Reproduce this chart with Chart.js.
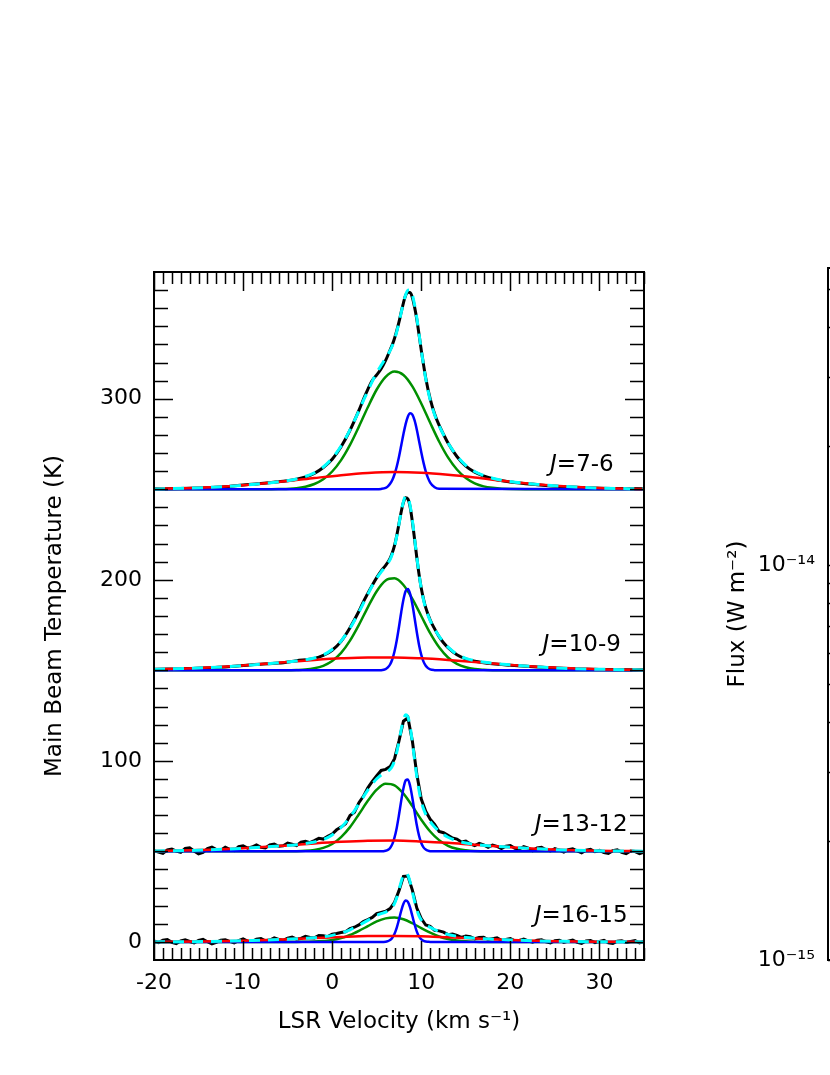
<!DOCTYPE html>
<html><head><meta charset="utf-8">
<script src="https://cdn.jsdelivr.net/npm/chart.js@4.4.1/dist/chart.umd.min.js"></script>
<style>
html,body{margin:0;padding:0;background:#fff;width:830px;height:1075px;overflow:hidden;}
#left{position:absolute;left:0;top:0;}
#right{position:absolute;left:680px;top:0;}
</style></head><body>
<canvas id="left" width="700" height="1075"></canvas>
<canvas id="right" width="400" height="1075"></canvas>
<script>
// ---------------- velocity grids (km/s) ----------------
const velFit = [-20, -16, -12, -9, -6, -4, -2, -1, 0, 1, 2, 3, 3.5, 4, 4.5, 5, 5.5, 6, 6.5, 6.75, 7, 7.25, 7.5, 7.75, 8, 8.25, 8.5, 8.75, 9, 9.25, 9.5, 9.75, 10, 10.25, 10.5, 11, 11.5, 12, 12.5, 13, 14, 15, 16, 18, 20, 23, 26, 30, 35];
const velRed = [-20, -15, -10, -5, -2, 1, 4, 7, 10, 13, 16, 20, 25, 30, 35];
const velGreen = [-20, -12, -8, -6, -4, -3, -2, -1, 0, 1, 2, 3, 4, 5, 6, 7, 8, 9, 10, 11, 12, 13, 14, 15, 16, 17, 18, 20, 24, 35];
const velBlue = [-20, 5, 5.5, 6, 6.25, 6.5, 6.75, 7, 7.25, 7.5, 7.75, 8, 8.25, 8.5, 8.75, 9, 9.25, 9.5, 9.75, 10, 10.25, 10.5, 10.75, 11, 11.5, 12, 35];
const velChan = [-20,-19.5,-19,-18.5,-18,-17.5,-17,-16.5,-16,-15.5,
 -15,-14.5,-14,-13.5,-13,-12.5,-12,-11.5,-11,-10.5,
 -10,-9.5,-9,-8.5,-8,-7.5,-7,-6.5,-6,-5.5,
 -5,-4.5,-4,-3.5,-3,-2.5,-2,-1.5,-1,-0.5,
 0,0.5,1,1.5,2,2.5,3,3.5,4,4.5,
 5,5.5,6,6.5,7,7.5,8,8.5,9,9.5,
 10,10.5,11,11.5,12,12.5,13,13.5,14,14.5,
 15,15.5,16,16.5,17,17.5,18,18.5,19,19.5,
 20,20.5,21,21.5,22,22.5,23,23.5,24,24.5,
 25,25.5,26,26.5,27,27.5,28,28.5,29,29.5,
 30,30.5,31,31.5,32,32.5,33,33.5,34,34.5,
 35];

// ---------------- transitions ----------------
const transitions = ['7-6', '10-9', '13-12', '16-15'];

// observed spectra (K, offset)
const obs76 = [250.3, 250.5, 251.4, 252.8, 254.2, 255.5, 258.8, 262.0, 266.6, 273.5, 282.6, 293.6, 299.6, 305.2, 310.1, 313.2, 316.6, 321.2, 326.9, 329.8, 333.4, 337.6, 342.4, 347.9, 353.0, 357.2, 358.8, 358.6, 355.9, 350.6, 343.8, 335.5, 326.8, 318.9, 311.5, 299.9, 291.6, 285.4, 280.3, 275.5, 268.1, 262.8, 259.5, 255.8, 254.0, 252.5, 251.4, 250.6, 250.3];
const obs109 = [150.6, 151.0, 151.8, 153.1, 154.0, 155.3, 156.5, 158.2, 161.1, 166.0, 173.5, 182.6, 187.8, 192.5, 197.0, 201.2, 204.9, 207.9, 211.8, 214.9, 219.0, 224.5, 231.0, 237.6, 242.8, 245.3, 244.6, 240.2, 232.1, 222.4, 212.2, 203.0, 195.3, 189.4, 184.6, 177.8, 172.9, 168.6, 165.2, 162.5, 158.6, 156.3, 155.0, 153.6, 152.8, 151.8, 151.0, 150.5, 150.3];
const obs1312 = [50.4, 49.6, 48.9, 50.8, 51.3, 50.1, 49.5, 51.6, 51.9, 50.2,
 48.6, 49.4, 51.5, 52.4, 51.0, 50.6, 52.3, 51.1, 50.4, 52.6,
 53.1, 51.8, 52.4, 53.6, 52.2, 51.9, 53.5, 54.0, 52.8, 53.1,
 54.6, 53.9, 53.2, 55.1, 55.6, 54.8, 55.9, 57.2, 56.8, 58.3,
 59.6, 61.9, 63.4, 65.2, 69.8, 71.6, 76.9, 80.4, 85.1, 88.6,
 91.8, 94.7, 95.3, 96.8, 101.2, 111.0, 121.9, 123.8, 110.9, 92.6,
 78.9, 72.1, 67.8, 64.9, 61.0, 60.3, 58.9, 57.4, 56.8, 55.2,
 55.7, 54.1, 53.2, 54.4, 53.6, 52.3, 53.5, 52.8, 51.6, 52.9,
 53.2, 51.7, 51.3, 52.6, 51.8, 50.4, 51.9, 52.3, 50.9, 50.2,
 51.5, 50.7, 49.6, 50.9, 51.4, 50.3, 49.2, 50.6, 51.1, 49.8,
 50.5, 49.3, 48.9, 50.4, 50.9, 49.5, 48.7, 50.2, 49.9, 48.8,
 49.6];
const obs1615 = [0.6, -0.4, 0.9, 1.3, -0.2, -0.9, 0.5, 1.1, 0.2, -0.6,
 0.8, 1.4, 0.1, -1.1, -0.3, 0.9, 1.2, 0.3, -0.5, 0.7,
 1.6, 0.4, 0.2, 1.5, 1.9, 0.6, 1.0, 2.2, 1.4, 0.9,
 2.1, 2.6, 1.5, 1.9, 3.1, 2.4, 2.2, 3.5, 3.4, 2.9,
 4.3, 4.6, 5.2, 5.6, 7.3, 8.1, 9.4, 11.2, 12.3, 13.5,
 15.6, 16.3, 16.9, 18.4, 21.9, 28.3, 36.2, 36.4, 28.6, 18.7,
 12.9, 9.3, 8.6, 6.4, 6.1, 5.4, 4.0, 4.4, 3.6, 2.5,
 3.2, 2.9, 1.7, 2.4, 2.6, 1.3, 1.8, 2.2, 0.9, 1.4,
 1.9, 0.6, 0.8, 1.6, 0.5, -0.2, 0.9, 1.2, 0.1, -0.6,
 0.7, 0.9, -0.3, 0.4, 1.0, -0.2, -0.8, 0.5, 0.8, -0.4,
 0.3, 0.9, -0.5, -0.9, 0.4, 0.6, -0.3, 0.2, 0.7, -0.6,
 0.2];

// total fits
const fit76 = [250.2, 250.6, 251.5, 252.6, 254.1, 255.7, 259.1, 262.3, 267.1, 273.9, 282.8, 293.3, 298.9, 304.3, 309.6, 314.4, 318.5, 322.4, 326.6, 329.3, 332.8, 337.1, 342.1, 347.7, 353.1, 357.5, 360.0, 360.1, 357.4, 351.9, 344.6, 335.8, 326.9, 318.6, 311.0, 299.3, 291.2, 285.1, 280.1, 275.6, 268.4, 263.2, 259.8, 256.1, 254.3, 252.7, 251.6, 250.7, 250.2];
const fit109 = [150.5, 151.1, 152.0, 153.0, 154.2, 155.1, 156.8, 158.5, 161.5, 166.2, 173.2, 182.1, 187.0, 191.9, 196.7, 200.9, 204.4, 207.5, 211.2, 214.2, 218.4, 224.1, 230.8, 237.7, 243.2, 246.3, 245.5, 240.9, 232.8, 222.9, 212.5, 203.1, 195.1, 188.9, 184.1, 177.4, 172.7, 168.8, 165.5, 162.8, 158.9, 156.6, 155.3, 153.9, 153.0, 152.0, 151.1, 150.6, 150.2];
const fit1312 = [50.2, 50.5, 51.2, 52.0, 52.9, 53.7, 55.2, 56.6, 59.1, 63.2, 68.9, 76.2, 80.1, 83.8, 87.2, 90.1, 92.2, 93.6, 95.3, 97.1, 100.1, 104.8, 110.7, 117.3, 122.7, 125.5, 124.2, 118.8, 110.2, 100.6, 91.2, 83.6, 77.6, 73.5, 70.5, 66.4, 63.5, 61.2, 59.3, 57.8, 55.8, 54.6, 53.8, 52.9, 52.3, 51.4, 50.8, 50.3, 50.1];
const fit1615 = [0.0, 0.1, 0.4, 0.8, 1.3, 1.7, 2.3, 2.8, 3.6, 4.8, 6.7, 9.1, 10.5, 11.9, 13.3, 14.6, 15.6, 16.4, 17.8, 19.1, 21.3, 24.5, 28.8, 33.3, 36.9, 38.1, 36.8, 33.0, 27.8, 22.4, 17.8, 14.4, 12.1, 10.6, 9.5, 8.0, 6.8, 5.7, 4.9, 4.1, 3.1, 2.4, 2.0, 1.5, 1.1, 0.6, 0.3, 0.1, 0.0];

// broad (red) components
const red76 = [250.2, 250.8, 252.2, 254.5, 256.2, 257.8, 259.0, 259.5, 259.1, 258.0, 256.5, 254.2, 252.0, 250.7, 250.2];
const red109 = [150.5, 151.3, 152.7, 154.6, 155.7, 156.6, 157.1, 157.1, 156.6, 155.7, 154.6, 153.0, 151.5, 150.6, 150.2];
const red1312 = [50.2, 50.7, 51.7, 53.3, 54.4, 55.3, 55.9, 56.0, 55.5, 54.7, 53.6, 52.3, 51.0, 50.3, 50.1];
const red1615 = [0, 0.2, 0.6, 1.5, 2.1, 2.7, 3.2, 3.3, 3.1, 2.5, 1.9, 1.1, 0.4, 0.1, 0];

// medium (green) components
const green76 = [250, 250, 250, 250.1, 250.6, 251.4, 252.9, 255.5, 259.8, 266.1, 274.5, 284.6, 295.3, 305.1, 312.1, 315.0, 313.1, 306.8, 297.4, 286.7, 276.4, 267.6, 260.9, 256.2, 253.3, 251.6, 250.8, 250.1, 250, 250];
const green109 = [150, 150, 150, 150, 150.2, 150.4, 151.1, 152.5, 155.1, 159.6, 166.4, 175.1, 184.8, 193.7, 199.6, 200.8, 197.1, 189.5, 180.0, 170.5, 162.7, 157.1, 153.6, 151.7, 150.7, 150.3, 150.1, 150, 150, 150];
const green1312 = [50, 50, 50, 50, 50.1, 50.3, 50.8, 51.9, 54.1, 57.9, 63.4, 70.5, 77.9, 84.1, 87.3, 86.5, 81.9, 75.0, 67.5, 61.0, 56.2, 53.1, 51.4, 50.6, 50.2, 50.1, 50, 50, 50, 50];
const green1615 = [0, 0, 0, 0, 0, 0.1, 0.2, 0.5, 1.0, 2.1, 3.8, 6.1, 8.7, 11.3, 13.0, 13.5, 12.5, 10.3, 7.6, 5.1, 3.0, 1.6, 0.8, 0.3, 0.1, 0, 0, 0, 0, 0];

// narrow (blue) components
const blue76 = [250, 250, 250.2, 250.8, 251.6, 253.0, 255.1, 258.3, 262.6, 268.0, 274.2, 280.5, 286.1, 290.2, 292.0, 291.2, 288.0, 282.9, 276.7, 270.4, 264.7, 259.9, 256.3, 253.7, 251.1, 250.3, 250];
const blue109 = [150, 150, 150.1, 150.7, 151.6, 153.2, 156.1, 160.5, 166.6, 174.1, 182.1, 189.1, 193.8, 194.9, 192.3, 186.5, 178.9, 171.0, 164.0, 158.5, 154.8, 152.5, 151.2, 150.5, 150.1, 150, 150];
const blue1312 = [50, 50, 50, 50.3, 50.8, 51.9, 54.0, 57.7, 63.1, 70.2, 78.0, 84.9, 89.2, 89.7, 86.1, 79.5, 71.8, 64.4, 58.6, 54.6, 52.2, 51.0, 50.4, 50.1, 50, 50, 50];
const blue1615 = [0, 0, 0, 0.1, 0.4, 1.0, 2.3, 4.5, 7.9, 12.4, 17.2, 21.1, 22.9, 22.1, 18.9, 14.3, 9.6, 5.7, 3.0, 1.4, 0.6, 0.2, 0.1, 0, 0, 0, 0];

// tick labels
const xTickLabels = [-20, -10, 0, 10, 20, 30];
const yTickLabels = [0, 100, 200, 300];
const fluxTickValues = [1e-15, 2e-15, 3e-15, 4e-15, 5e-15, 6e-15, 7e-15, 8e-15, 9e-15, 1e-14, 2e-14, 3e-14, 4e-14, 5e-14];
const fluxTickText = ['10\u207B\u00B9\u2075', '', '', '', '', '', '', '', '', '10\u207B\u00B9\u2074', '', '', '', ''];

// ---------------- build datasets ----------------
const FONT = '"DejaVu Sans", "Liberation Sans", sans-serif';
Chart.defaults.font.family = FONT;
Chart.defaults.color = '#000';

function pts(xs, ys) { return xs.map((x, i) => ({ x: x, y: ys[i] })); }
function line(xs, ys, color, width, dash, smooth) {
  return {
    data: pts(xs, ys), borderColor: color, backgroundColor: color,
    borderWidth: width, borderDash: dash || [], pointRadius: 0, fill: false,
    cubicInterpolationMode: smooth ? 'monotone' : 'default', tension: 0
  };
}
const datasets = [];
[fit76, fit109, fit1312, fit1615].forEach(a => datasets.push(line(velFit, a, '#00ffff', 3, [11, 8], true)));
[red76, red109, red1312, red1615].forEach(a => datasets.push(line(velRed, a, '#ff0000', 2.5, null, true)));
[blue76, blue109, blue1312, blue1615].forEach(a => datasets.push(line(velBlue, a, '#0000ff', 2.5, null, true)));
[green76, green109, green1312, green1615].forEach(a => datasets.push(line(velGreen, a, '#009000', 2.5, null, true)));
datasets.push(line(velFit, obs76, '#000000', 3, null, true));
datasets.push(line(velFit, obs109, '#000000', 3, null, true));
datasets.push(line(velChan, obs1312, '#000000', 3, null, false));
datasets.push(line(velChan, obs1615, '#000000', 3, null, false));

// ---------------- decorations (inward ticks, frame, J labels) ----------------
const leftDecor = {
  id: 'leftDecor',
  afterDatasetsDraw(chart, args, opts) {
    const { ctx, chartArea: a, scales: { x, y } } = chart;
    ctx.save();
    ctx.strokeStyle = '#000';
    ctx.lineWidth = 1.5;
    ctx.beginPath();
    for (let v = -20; v <= 35; v++) {
      const px = Math.round(x.getPixelForValue(v)) + 0.5;
      const len = (v % 10 === 0) ? 19 : 12;
      ctx.moveTo(px, a.bottom); ctx.lineTo(px, a.bottom - len);
      ctx.moveTo(px, a.top); ctx.lineTo(px, a.top + len);
    }
    for (let t = 0; t <= 360; t += 10) {
      const py = Math.round(y.getPixelForValue(t)) + 0.5;
      const len = (t % 100 === 0) ? 19 : 14;
      ctx.moveTo(a.left, py); ctx.lineTo(a.left + len, py);
      ctx.moveTo(a.right, py); ctx.lineTo(a.right - len, py);
    }
    ctx.stroke();
    ctx.lineWidth = 2;
    ctx.strokeRect(a.left, a.top, a.right - a.left, a.bottom - a.top);
    ctx.fillStyle = '#000';
    ctx.textBaseline = 'middle';
    ctx.textAlign = 'left';
    (opts.labels || []).forEach(lab => {
      const rest = '=' + lab.text;
      ctx.font = '23px ' + FONT;
      const wRest = ctx.measureText(rest).width;
      ctx.font = 'italic 23px ' + FONT;
      const wJ = ctx.measureText('J').width;
      const rx = x.getPixelForValue(lab.x);
      const ry = y.getPixelForValue(lab.y);
      ctx.fillText('J', rx - wRest - wJ, ry);
      ctx.font = '23px ' + FONT;
      ctx.fillText(rest, rx - wRest, ry);
    });
    ctx.restore();
  }
};

new Chart(document.getElementById('left'), {
  type: 'line',
  data: { datasets: datasets },
  options: {
    responsive: false, animation: false,
    layout: { padding: { left: 0, right: 56, top: 272, bottom: 35 } },
    scales: {
      x: {
        type: 'linear', min: -20, max: 35,
        afterFit: s => { s.height = 80; },
        afterBuildTicks: s => { s.ticks = xTickLabels.map(v => ({ value: v })); },
        ticks: { autoSkip: false, maxRotation: 0, padding: 10, font: { size: 22 }, color: '#000' },
        grid: { display: false, drawTicks: false },
        border: { display: false },
        title: { display: true, text: 'LSR Velocity (km s\u207B\u00B9)', font: { size: 23 }, color: '#000', padding: { top: 0, bottom: 4 } }
      },
      y: {
        type: 'linear', min: -10, max: 370,
        afterFit: s => { s.width = 154; },
        afterBuildTicks: s => { s.ticks = yTickLabels.map(v => ({ value: v })); },
        ticks: { autoSkip: false, padding: 12, font: { size: 22 }, color: '#000' },
        grid: { display: false, drawTicks: false },
        border: { display: false },
        title: { display: true, text: 'Main Beam Temperature (K)', font: { size: 23 }, color: '#000', padding: { top: 41, bottom: 0 } }
      }
    },
    plugins: {
      legend: { display: false }, tooltip: { enabled: false },
      leftDecor: {
        labels: [
          { text: transitions[0], x: 31.6, y: 263.5 },
          { text: transitions[1], x: 32.4, y: 164 },
          { text: transitions[2], x: 33.15, y: 64.6 },
          { text: transitions[3], x: 33.15, y: 14.3 }
        ]
      }
    }
  },
  plugins: [leftDecor]
});

// ---------------- right (cut) panel ----------------
const rightDecor = {
  id: 'rightDecor',
  afterDraw(chart) {
    const { ctx, chartArea: a, scales: { y } } = chart;
    ctx.save();
    ctx.strokeStyle = '#000';
    ctx.lineWidth = 1.5;
    ctx.beginPath();
    fluxTickValues.forEach((v, i) => {
      const py = Math.round(y.getPixelForValue(v)) + 0.5;
      const len = fluxTickText[i] ? 20 : 10;
      ctx.moveTo(a.left, py); ctx.lineTo(a.left + len, py);
    });
    ctx.stroke();
    ctx.lineWidth = 2;
    ctx.strokeRect(a.left, a.top, a.right - a.left + 10, a.bottom - a.top);
    ctx.restore();
  }
};

new Chart(document.getElementById('right'), {
  type: 'line',
  data: { datasets: [] },
  options: {
    responsive: false, animation: false,
    layout: { padding: { left: 0, right: 0, top: 268, bottom: 115 } },
    scales: {
      x: { type: 'linear', display: false, min: 0, max: 1 },
      y: {
        type: 'logarithmic', min: 1e-15, max: 5.65e-14,
        afterFit: s => { s.width = 148; },
        afterBuildTicks: s => { s.ticks = fluxTickValues.map(v => ({ value: v })); },
        ticks: { autoSkip: false, padding: 13, font: { size: 22 }, color: '#000', callback: (v, i) => fluxTickText[i] },
        grid: { display: false, drawTicks: false },
        border: { display: false },
        title: { display: true, text: 'Flux (W m\u207B\u00B2)', font: { size: 23 }, color: '#000', padding: { top: 44, bottom: 0 } }
      }
    },
    plugins: { legend: { display: false }, tooltip: { enabled: false } }
  },
  plugins: [rightDecor]
});
</script></body></html>
